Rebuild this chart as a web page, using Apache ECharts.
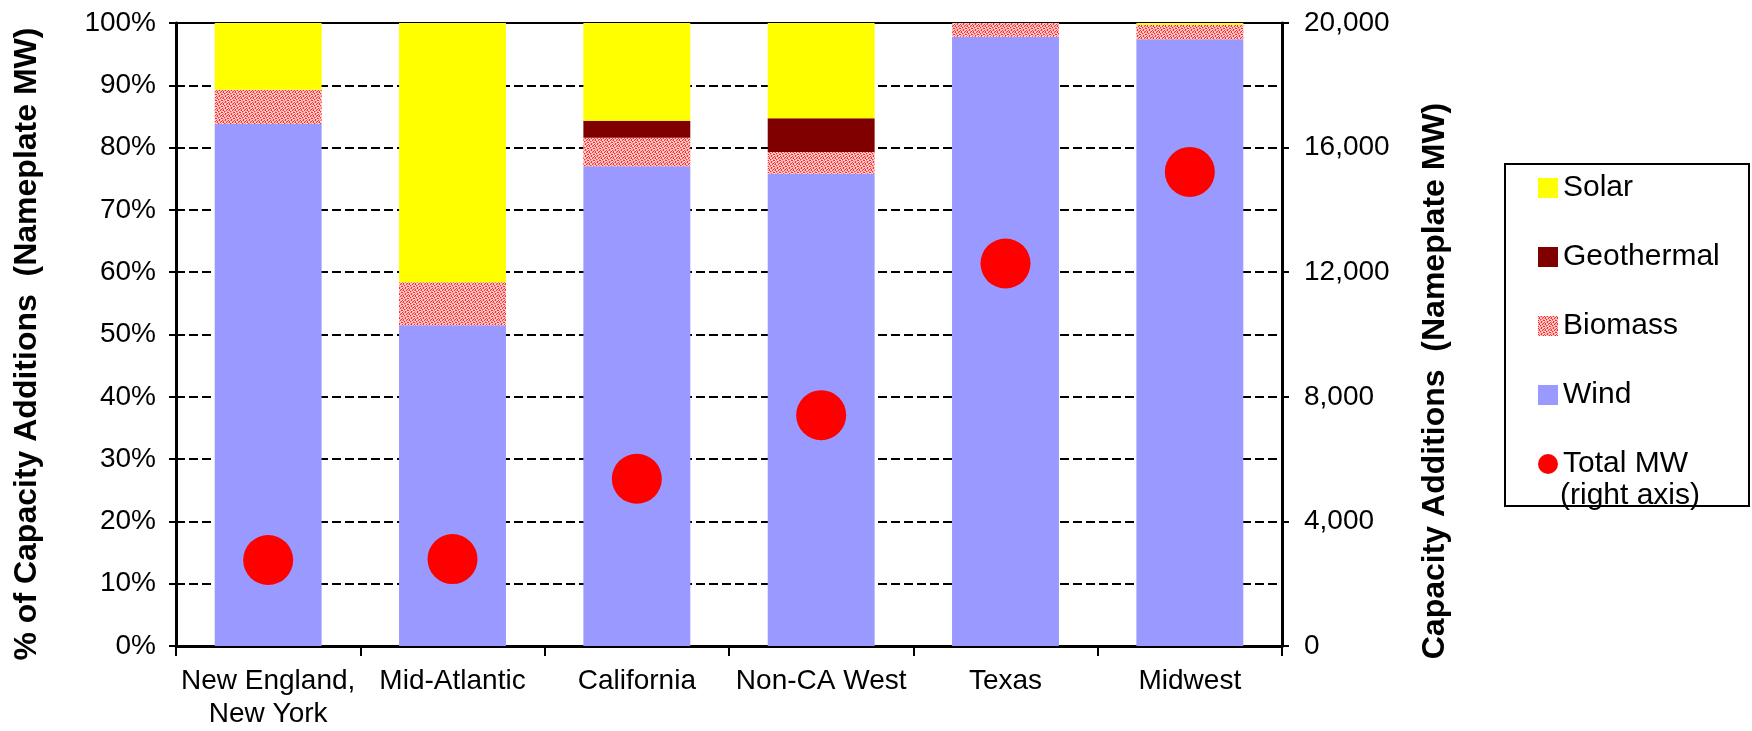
<!DOCTYPE html>
<html>
<head>
<meta charset="utf-8">
<script src="https://cdn.jsdelivr.net/npm/echarts@6/dist/echarts.min.js"></script>
<style>
  html, body { margin: 0; padding: 0; background: #ffffff; }
  #chart { width: 1752px; height: 731px; }
</style>
</head>
<body>
<div id="chart"></div>
<script>
// Regional renewable capacity additions: share by technology (left axis) and total MW (right axis)
const categories = ['New England,\nNew York', 'Mid-Atlantic', 'California', 'Non-CA West', 'Texas', 'Midwest'];
const windPct       = [83.8, 51.5, 77.0, 75.8, 97.8, 97.4];
const biomassPct    = [5.5, 6.9, 4.6, 3.5, 2.2, 2.3];
const geothermalPct = [0, 0, 2.7, 5.4, 0, 0];
const solarPct      = [10.7, 41.6, 15.7, 15.3, 0, 0.3];
const totalMW       = [2760, 2790, 5370, 7410, 12280, 15220];

const pctTicks = { min: 0, max: 100, interval: 10 };
const mwTicks  = { min: 0, max: 20000, interval: 4000 };

// Speckled red texture used for the biomass segments
function makeBiomassPattern() {
  const c = document.createElement('canvas');
  c.width = 6; c.height = 6;
  const ctx = c.getContext('2d');
  ctx.fillStyle = '#ffd0d0';
  ctx.fillRect(0, 0, 6, 6);
  ctx.fillStyle = '#ff2a2a';
  const red = [[0,0],[1,1],[3,0],[4,2],[2,3],[0,4],[5,4],[3,5],[1,2],[5,1]];
  red.forEach(([x, y]) => ctx.fillRect(x, y, 1, 1));
  ctx.fillStyle = '#ff8a8a';
  const mid = [[2,0],[4,1],[0,2],[3,3],[5,3],[1,5],[4,5],[2,4]];
  mid.forEach(([x, y]) => ctx.fillRect(x, y, 1, 1));
  return c;
}

const FONT = "'Liberation Sans', Arial, sans-serif";
const FS = 28;        // tick and category labels
const FS_LEGEND = 30; // legend entries
const FS_TITLE = 32;  // axis titles

const chart = echarts.init(document.getElementById('chart'), null, { renderer: 'canvas' });
const biomassFill = { image: makeBiomassPattern(), repeat: 'repeat' };

const barCommon = {
  type: 'bar',
  stack: 'share',
  barWidth: '58%',
  yAxisIndex: 0
};

chart.setOption({
  backgroundColor: '#ffffff',
  animation: false,
  textStyle: { fontFamily: FONT, color: '#000' },
  grid: {
    left: 176, right: 470, top: 23, bottom: 83,
    show: true, borderColor: '#000', borderWidth: 2, backgroundColor: 'transparent'
  },
  legend: {
    orient: 'vertical',
    left: 1533,
    top: 168,
    itemWidth: 20,
    itemHeight: 20,
    itemGap: 39,
    textStyle: { fontFamily: FONT, fontSize: FS_LEGEND, color: '#000' },
    data: [
      { name: 'Solar', icon: 'rect' },
      { name: 'Geothermal', icon: 'rect' },
      { name: 'Biomass', icon: 'rect' },
      { name: 'Wind', icon: 'rect' },
      { name: 'Total MW', icon: 'circle' }
    ]
  },
  xAxis: {
    type: 'category',
    data: categories,
    boundaryGap: true,
    axisLine: { lineStyle: { color: '#000', width: 3 } },
    axisTick: { show: true, length: 10, lineStyle: { color: '#000', width: 2 } },
    axisLabel: { fontFamily: FONT, fontSize: FS, color: '#000', margin: 19, lineHeight: 33, interval: 0 }
  },
  yAxis: [
    {
      type: 'value',
      min: pctTicks.min, max: pctTicks.max, interval: pctTicks.interval,
      axisLine: { show: true, lineStyle: { color: '#000', width: 3 } },
      axisTick: { show: true, length: 7, lineStyle: { color: '#000', width: 2 } },
      axisLabel: { formatter: '{value}%', fontFamily: FONT, fontSize: FS, color: '#000', margin: 20 },
      splitLine: { show: true, lineStyle: { color: '#000', width: 2, type: [9, 4] } }
    },
    {
      type: 'value',
      position: 'right',
      min: mwTicks.min, max: mwTicks.max, interval: mwTicks.interval,
      axisLine: { show: true, lineStyle: { color: '#000', width: 3 } },
      axisTick: { show: true, length: 7, lineStyle: { color: '#000', width: 2 } },
      axisLabel: {
        formatter: v => v.toLocaleString('en-US'),
        fontFamily: FONT, fontSize: FS, color: '#000', margin: 22
      },
      splitLine: { show: false }
    }
  ],
  series: [
    Object.assign({}, barCommon, { name: 'Wind', data: windPct, itemStyle: { color: '#9999ff' } }),
    Object.assign({}, barCommon, { name: 'Biomass', data: biomassPct, itemStyle: { color: biomassFill } }),
    Object.assign({}, barCommon, { name: 'Geothermal', data: geothermalPct, itemStyle: { color: '#800000' } }),
    Object.assign({}, barCommon, { name: 'Solar', data: solarPct, itemStyle: { color: '#ffff00' } }),
    {
      name: 'Total MW',
      type: 'scatter',
      yAxisIndex: 1,
      data: totalMW,
      symbol: 'circle',
      symbolSize: 50,
      z: 5,
      itemStyle: { color: '#ff0000', opacity: 1 }
    }
  ],
  graphic: [
    {
      type: 'rect',
      shape: { x: 1505, y: 164, width: 244, height: 342 },
      style: { fill: 'transparent', stroke: '#000', lineWidth: 2 },
      z: 1
    },
    {
      type: 'text',
      x: 1560, y: 496,
      style: { text: '(right axis)', font: FS_LEGEND + 'px ' + FONT, fill: '#000', textAlign: 'left', textVerticalAlign: 'middle' },
      z: 10
    },
    {
      type: 'text',
      x: 27, y: 344,
      rotation: Math.PI / 2,
      style: { text: '% of Capacity Additions  (Nameplate MW)', font: 'bold ' + FS_TITLE + 'px ' + FONT, fill: '#000', textAlign: 'center', textVerticalAlign: 'middle' }
    },
    {
      type: 'text',
      x: 1435, y: 381,
      rotation: Math.PI / 2,
      style: { text: 'Capacity Additions  (Nameplate MW)', font: 'bold ' + FS_TITLE + 'px ' + FONT, fill: '#000', textAlign: 'center', textVerticalAlign: 'middle' }
    }
  ]
});
</script>
</body>
</html>
